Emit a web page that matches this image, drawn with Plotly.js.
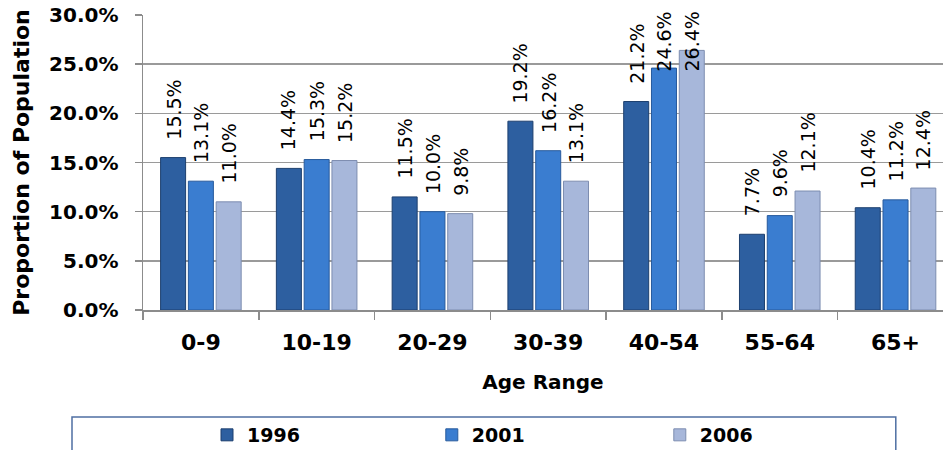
<!DOCTYPE html>
<html>
<head>
<meta charset="utf-8">
<script src="https://cdn.plot.ly/plotly-3.0.1.min.js"></script>
<style>
  html, body { margin: 0; padding: 0; background: #ffffff; }
  #chart { width: 946px; height: 450px; }
</style>
</head>
<body>
<div id="chart"></div>
<script>
// Population share by age range for three census years (percent)
const ageRanges = ['0-9', '10-19', '20-29', '30-39', '40-54', '55-64', '65+'];
const years = ['1996', '2001', '2006'];
const share1996 = [15.5, 14.4, 11.5, 19.2, 21.2, 7.7, 10.4];
const share2001 = [13.1, 15.3, 10.0, 16.2, 24.6, 9.6, 11.2];
const share2006 = [11.0, 15.2, 9.8, 13.1, 26.4, 12.1, 12.4];

const seriesValues = [share1996, share2001, share2006];
const fillColors = ['#2d5fa0', '#3a7dd0', '#a7b7da'];
const edgeColors = ['#1d3f6e', '#275a9c', '#7d8db0'];

const FONT = 'DejaVu Sans, sans-serif';
const BAR_GAP = 0.28;
const GROUP_GAP = 0.1;
const slot = (1 - BAR_GAP) / years.length;

// one legend per series so each key sits at its own spot along the bottom box
const legendIds = ['legend', 'legend2', 'legend3'];
const legendX = [0.08, 0.361, 0.646];

const traces = years.map((yr, i) => ({
  type: 'bar',
  name: yr,
  x: ageRanges,
  y: seriesValues[i],
  legend: legendIds[i],
  marker: {
    color: fillColors[i],
    line: { color: edgeColors[i], width: 1 }
  },
  hoverinfo: 'skip'
}));

// Rotated value labels above each bar; labels near the top are held inside the frame
const LABEL_CAP = 22.4;
const annotations = [];
seriesValues.forEach((vals, i) => {
  vals.forEach((v, j) => {
    annotations.push({
      xref: 'x', yref: 'y',
      x: j + (i - 1) * slot,
      y: Math.min(v, LABEL_CAP),
      yshift: 16,
      text: v.toFixed(1) + '%',
      textangle: -90,
      showarrow: false,
      xanchor: 'center',
      yanchor: 'bottom',
      font: { family: FONT, size: 19, color: '#000000' }
    });
  });
});

const legendBase = {
  orientation: 'h',
  xanchor: 'left',
  y: -0.3593,
  yanchor: 'top',
  bgcolor: 'rgba(0,0,0,0)',
  borderwidth: 0,
  font: { family: FONT, size: 19, weight: 'bold', color: '#000000' }
};

const layout = {
  width: 946,
  height: 450,
  margin: { l: 143, r: 3, t: 15, b: 140, autoexpand: false },
  paper_bgcolor: '#ffffff',
  plot_bgcolor: '#ffffff',
  barmode: 'group',
  bargap: BAR_GAP,
  bargroupgap: GROUP_GAP,
  showlegend: true,
  font: { family: FONT, color: '#000000' },
  xaxis: {
    type: 'category',
    range: [-0.5, 6.41],
    tickson: 'boundaries',
    ticks: 'outside',
    ticklen: 8,
    tickcolor: '#8c8c8c',
    tickwidth: 1.5,
    showline: true,
    linecolor: '#8c8c8c',
    linewidth: 1.5,
    showgrid: false,
    ticklabelstandoff: 12,
    tickfont: { family: FONT, size: 22, weight: 'bold', color: '#000000' },
    title: {
      text: 'Age Range',
      standoff: 21,
      font: { family: FONT, size: 20, weight: 'bold', color: '#000000' }
    },
    fixedrange: true
  },
  yaxis: {
    range: [0, 30],
    dtick: 5,
    tickformat: '.1f',
    ticksuffix: '%',
    ticks: 'outside',
    ticklen: 7,
    tickcolor: '#8c8c8c',
    tickwidth: 1.5,
    showline: true,
    linecolor: '#8c8c8c',
    linewidth: 1.5,
    showgrid: true,
    gridcolor: '#9a9a9a',
    gridwidth: 1.5,
    zeroline: false,
    ticklabelstandoff: 12,
    tickfont: { family: FONT, size: 20, weight: 'bold', color: '#000000' },
    title: {
      text: 'Proportion of Population',
      standoff: 13,
      font: { family: FONT, size: 22, weight: 'bold', color: '#000000' }
    },
    fixedrange: true
  },
  legend: Object.assign({}, legendBase, { x: legendX[0] }),
  legend2: Object.assign({}, legendBase, { x: legendX[1] }),
  legend3: Object.assign({}, legendBase, { x: legendX[2] }),
  shapes: [{
    type: 'rect',
    xref: 'paper', yref: 'paper',
    x0: -0.08875, x1: 0.941,
    y0: -0.3627, y1: -0.6,
    line: { color: '#4f6fa3', width: 1.5 },
    fillcolor: 'rgba(0,0,0,0)',
    layer: 'below'
  }],
  annotations: annotations
};

Plotly.newPlot('chart', traces, layout, { displayModeBar: false, staticPlot: true });
</script>
</body>
</html>
